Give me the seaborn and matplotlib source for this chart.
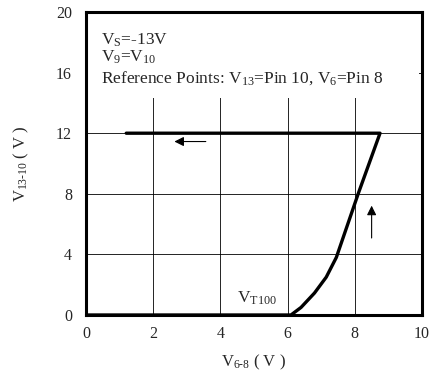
import numpy as np
import pandas as pd
import matplotlib
matplotlib.use("Agg")
import matplotlib.pyplot as plt
import seaborn as sns

# transfer curve (V6-8 vs V13-10)
v_in = [1.2, 8.75, 8.1, 7.45, 7.15, 6.8, 6.4, 6.1, 0.0]
v_out = [12.0, 12.0, 8.0, 3.8, 2.5, 1.45, 0.5, 0.0, 0.0]

x_ticks = [0, 2, 4, 6, 8, 10]
y_ticks = [0, 4, 8, 12, 16, 20]

sns.set_style("white")
plt.rcParams['font.family'] = ['Liberation Serif', 'DejaVu Serif']
plt.rcParams['mathtext.fontset'] = 'custom'
plt.rcParams['mathtext.rm'] = 'Liberation Serif'
plt.rcParams['mathtext.it'] = 'Liberation Serif'

df = pd.DataFrame({'vin': v_in, 'vout': v_out})

fig = plt.figure(figsize=(4.36, 3.75), dpi=100)
ax = fig.add_axes([0.197, 0.16, 0.771, 0.808])

sns.lineplot(data=df, x='vin', y='vout', sort=False, color='black', lw=2.4, ax=ax, zorder=3)

ax.set_xlim(0, 10)
ax.set_ylim(0, 20)
ax.set_xticks(x_ticks)
ax.set_yticks(y_ticks)
ax.tick_params(axis='x', length=0, labelsize=11.5, pad=8)
ax.tick_params(axis='y', length=4, width=0.8, labelsize=11.5, direction='out', pad=6)
ax.grid(True, color='black', lw=0.6, zorder=0)
ax.set_axisbelow(True)
for side in ['left', 'bottom', 'top', 'right']:
    ax.spines[side].set_color('black')
    ax.spines[side].set_linewidth(2.2)

# the note block hides the grid behind it
ax.fill_between([0.05, 9.9], 14.3, 19.9, color='white', lw=0, zorder=1)

# arrows
ax.annotate('', xy=(2.55, 11.45), xytext=(3.65, 11.45),
            arrowprops=dict(arrowstyle='-|>', color='black', lw=0.8, mutation_scale=14), zorder=4)
ax.annotate('', xy=(8.5, 7.4), xytext=(8.5, 4.9),
            arrowprops=dict(arrowstyle='-|>', color='black', lw=0.8, mutation_scale=14), zorder=4)

# annotations
ax.text(0.45, 18.15, 'V$_\\mathrm{S}$=-13V', fontsize=12.5, va='center', zorder=4)
ax.text(0.45, 17.0, 'V$_\\mathrm{9}$=V$_\\mathrm{10}$', fontsize=12.5, va='center', zorder=4)
ax.text(0.45, 15.65, 'Reference Points: V$_\\mathrm{13}$=Pin 10, V$_\\mathrm{6}$=Pin 8',
        fontsize=12.5, va='center', zorder=4)
ax.text(4.5, 1.1, 'V$_\\mathrm{T100}$', fontsize=12.5, va='center', zorder=4)

ax.set_xlabel('V$_\\mathrm{6\\text{-}8}$ ( V )', fontsize=12, labelpad=8)
ax.set_ylabel('V$_\\mathrm{13\\text{-}10}$ ( V )', fontsize=12, labelpad=18)

fig.savefig('out.png', dpi=100)
